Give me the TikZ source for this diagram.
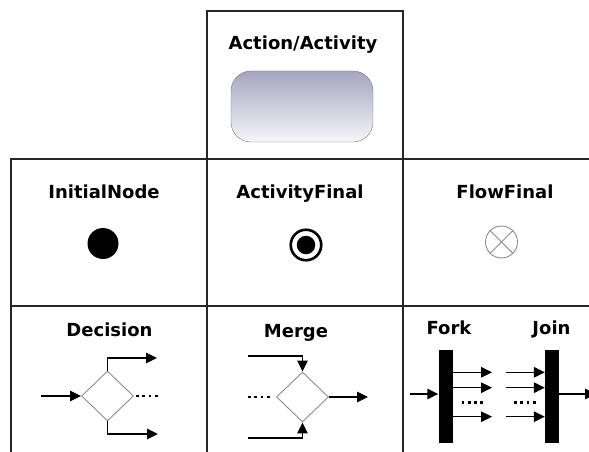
\documentclass[tikz,border=0pt]{standalone}
\usepackage{fontspec}
\setmainfont{DejaVu Sans}
\usepackage{tikz}
\usetikzlibrary{arrows.meta,shapes.geometric}
\definecolor{rule}{HTML}{262626}
\definecolor{lav}{HTML}{A5A5C0}
\definecolor{pale}{HTML}{F6F6F9}
\definecolor{rim}{HTML}{7A7A7A}
\definecolor{soft}{HTML}{8C8C8C}

\begin{document}
\begin{tikzpicture}[
  x=1pt,y=-1pt,
  grid/.style={draw=rule,line width=1.2pt},
  lbl/.style={anchor=base,inner sep=0pt,font=\bfseries\fontsize{18}{21}\selectfont},
  act/.style={draw=rim,rounded corners=20pt,top color=lav,bottom color=pale,minimum width=142pt,minimum height=71pt},
  gem/.style={diamond,draw=soft,line width=0.9pt,inner sep=0pt,minimum width=52pt,minimum height=50pt},
  bar/.style={fill=black,inner sep=0pt,minimum width=14pt,minimum height=93pt},
  arr/.style={-{Triangle[length=11pt,width=10.5pt]},line width=1.4pt},
  dotrow/.style={line width=2.7pt,dash pattern=on 2.7pt off 3.6pt}
]
\clip (0,0) rectangle (589,452);
\draw[grid] (207,452) -- (207,11) -- (403,11) -- (403,452);
\draw[grid] (11,452) -- (11,159) -- (589,159);
\draw[grid] (11,306) -- (589,306);

\node[lbl] (lact) at (303,49) {Action/Activity};
\node[act] (action) at (302,106.5) {};

\node[lbl] (linit) at (104,198) {InitialNode};
\node[lbl] (lafin) at (300,198) {ActivityFinal};
\node[lbl] (lffin) at (505,198) {FlowFinal};
\node[circle,fill=black,inner sep=0pt,minimum size=31pt] (init) at (103,243.5) {};
\node[circle,draw=black,line width=2.6pt,inner sep=0pt,minimum size=30.5pt] (afin) at (306,245) {};
\node[circle,fill=black,inner sep=0pt,minimum size=18.5pt] (adot) at (306,245) {};
\node[circle,draw=soft,line width=0.9pt,inner sep=0pt,minimum size=32pt] (ffin) at (501.5,242) {};
\draw[soft,line width=0.9pt] (ffin.north west) -- (ffin.south east) (ffin.north east) -- (ffin.south west);

\node[lbl] (ldec) at (109.5,336) {Decision};
\node[gem] (dec) at (107.5,396) {};
\coordinate (din) at (41,396);
\coordinate (dup) at (157,358);
\coordinate (ddn) at (158,434);
\coordinate (dd1) at (136,396);
\coordinate (dd2) at (159,396);
\draw[arr] (din) -- (dec.west);
\draw[arr] (dec.north) |- (dup);
\draw[arr] (dec.south) |- (ddn);
\draw[dotrow] (dd1) -- (dd2);

\node[lbl] (lmrg) at (296,337) {Merge};
\node[gem] (mrg) at (302.5,397) {};
\coordinate (min1) at (248,356);
\coordinate (min2) at (248,438);
\coordinate (mout) at (368,397);
\coordinate (md1) at (248,397);
\coordinate (md2) at (271,397);
\draw[arr] (min1) -| (mrg.north);
\draw[arr] (min2) -| (mrg.south);
\draw[arr] (mrg.east) -- (mout);
\draw[dotrow] (md1) -- (md2);

\node[lbl] (lfork) at (449,334) {Fork};
\node[lbl] (ljoin) at (551.5,334) {Join};
\node[bar] (fork) at (445.5,396.7) {};
\node[bar] (join) at (552,396.7) {};
\coordinate (fin) at (410,394);
\coordinate (fo1) at (492,372.3);
\coordinate (fo2) at (492,387.7);
\coordinate (fo3) at (492,416.7);
\coordinate (ji1) at (506,372.3);
\coordinate (ji2) at (506,387.7);
\coordinate (ji3) at (506,416.7);
\coordinate (jout) at (596,394);
\coordinate (fd1) at (461.5,402.3);
\coordinate (fd2) at (484,402.3);
\coordinate (jd1) at (514,402.3);
\coordinate (jd2) at (537,402.3);
\draw[arr] (fin) -- (fin -| fork.west);
\draw[arr] (fork.east |- fo1) -- (fo1);
\draw[arr] (fork.east |- fo2) -- (fo2);
\draw[arr] (fork.east |- fo3) -- (fo3);
\draw[arr] (ji1) -- (ji1 -| join.west);
\draw[arr] (ji2) -- (ji2 -| join.west);
\draw[arr] (ji3) -- (ji3 -| join.west);
\draw[arr] (join.east |- jout) -- (jout);
\draw[dotrow] (fd1) -- (fd2);
\draw[dotrow] (jd1) -- (jd2);
\end{tikzpicture}
\end{document}
